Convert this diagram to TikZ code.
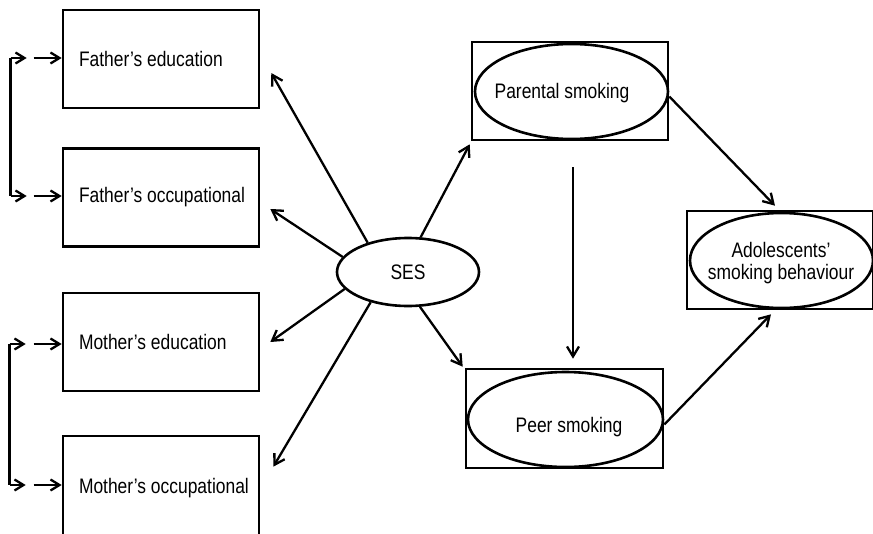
\documentclass[tikz,border=0pt]{standalone}
\usepackage{fontspec}
\setmainfont{Liberation Sans}[FakeStretch=0.83]
\usetikzlibrary{arrows.meta,shapes.geometric}
\begin{document}
\begin{tikzpicture}[x=1pt,y=-1pt,
  every node/.style={font=\fontsize{21}{22}\selectfont},
  lbox/.style={draw,line width=2.6pt,minimum width=196pt,minimum height=98pt,inner xsep=16pt},
  obox/.style={draw,line width=2.6pt,inner sep=0pt},
  oval/.style={draw,ellipse,line width=2.6pt,inner sep=0pt},
  arr/.style={line width=2.3pt,-{Straight Barb[length=10pt,width=12pt,line width=2.3pt]}},
  sarr/.style={line width=2.3pt,-{Straight Barb[length=9pt,width=11pt,line width=2.3pt]}},
  bline/.style={line width=2.6pt}]
\useasboundingbox (0,0) rectangle (873,533);
\clip (0,0) rectangle (873,533);
% left boxes
\node[lbox] (fe) at (161,59) {\makebox[164pt][l]{Father’s education}};
\node[lbox] (fo) at (161,197.5) {\makebox[164pt][l]{Father’s occupational}};
\node[lbox] (me) at (161,342) {\makebox[164pt][l]{Mother’s education}};
\node[lbox,minimum height=104pt] (mo) at (161,488) {\makebox[164pt][l]{\raisebox{3pt}{Mother’s occupational}}};
% SES
\node[oval,minimum width=142pt,minimum height=68pt] (ses) at (408,272) {SES};
% parental smoking
\node[obox,minimum width=196pt,minimum height=98pt] (pbox) at (570,91) {};
\node[oval,minimum width=193pt,minimum height=95pt] (pe) at (571.5,91.5) {};
\node (pt) at (562,93) {Parental smoking};
% peer smoking
\node[obox,minimum width=197pt,minimum height=99pt] (qbox) at (564.5,418.5) {};
\node[oval,minimum width=195pt,minimum height=95pt] (qe) at (565.5,419.5) {};
\node (qt) at (569,427) {Peer smoking};
% adolescents
\node[obox,minimum width=186pt,minimum height=98pt] (abox) at (780,260) {};
\node[oval,minimum width=183pt,minimum height=95pt] (ae) at (781.5,260.5) {};
\node[align=center] (at) at (781,263) {Adolescents’\\smoking behaviour};
% SES arrows
\draw[arr] (ses.144) -- ([xshift=11pt,yshift=-14pt]fe.east);
\draw[arr] (ses.167.7) -- ([xshift=10pt,yshift=-11.5pt]fo.east);
\draw[arr] (ses.195.7) -- ([xshift=10pt]me.east);
\draw[arr] (ses.219) -- ([xshift=13pt,yshift=-32pt]mo.north east);
\draw[arr] (ses.70.6) -- ([xshift=-1pt,yshift=-3pt]pbox.south west);
\draw[arr] (ses.289.4) -- ([xshift=-2pt,yshift=1pt]qbox.north west);
% smoking arrows
\draw[arr] ([xshift=3pt,yshift=-26pt]pbox.south) -- ([xshift=8.5pt,yshift=9pt]qbox.north);
\draw[arr] ([yshift=-5pt]pe.east) -- ([xshift=-5pt,yshift=4pt]abox.north);
\draw[arr] ([yshift=-5pt]qe.east) -- ([xshift=-9pt,yshift=-4pt]abox.south);
% left brackets
\coordinate (f1) at ([xshift=-51pt,yshift=1pt]fe.west);
\coordinate (f1m) at ([xshift=-35pt,yshift=1pt]fe.west);
\coordinate (f1n) at ([xshift=-28pt,yshift=1pt]fe.west);
\coordinate (f1e) at ([yshift=1pt]fe.west);
\coordinate (f2) at ([xshift=-51pt,yshift=1.5pt]fo.west);
\coordinate (f2m) at ([xshift=-35pt,yshift=1.5pt]fo.west);
\coordinate (f2n) at ([xshift=-28pt,yshift=1.5pt]fo.west);
\coordinate (f2e) at ([yshift=1.5pt]fo.west);
\draw[bline] (f1) -- (f2);
\draw[sarr] (f1) -- (f1m);
\draw[sarr] (f1n) -- (f1e);
\draw[sarr] (f2) -- (f2m);
\draw[sarr] (f2n) -- (f2e);
\coordinate (m1) at ([xshift=-52pt,yshift=-2pt]me.west);
\coordinate (m1m) at ([xshift=-36pt,yshift=-2pt]me.west);
\coordinate (m1n) at ([xshift=-28pt,yshift=-2pt]me.west);
\coordinate (m1e) at ([yshift=-2pt]me.west);
\coordinate (m2) at ([xshift=-52pt,yshift=3pt]mo.west);
\coordinate (m2m) at ([xshift=-36pt,yshift=3pt]mo.west);
\coordinate (m2n) at ([xshift=-28pt,yshift=3pt]mo.west);
\coordinate (m2e) at ([yshift=3pt]mo.west);
\draw[bline] (m1) -- (m2);
\draw[sarr] (m1) -- (m1m);
\draw[sarr] (m1n) -- (m1e);
\draw[sarr] (m2) -- (m2m);
\draw[sarr] (m2n) -- (m2e);
\end{tikzpicture}
\end{document}
